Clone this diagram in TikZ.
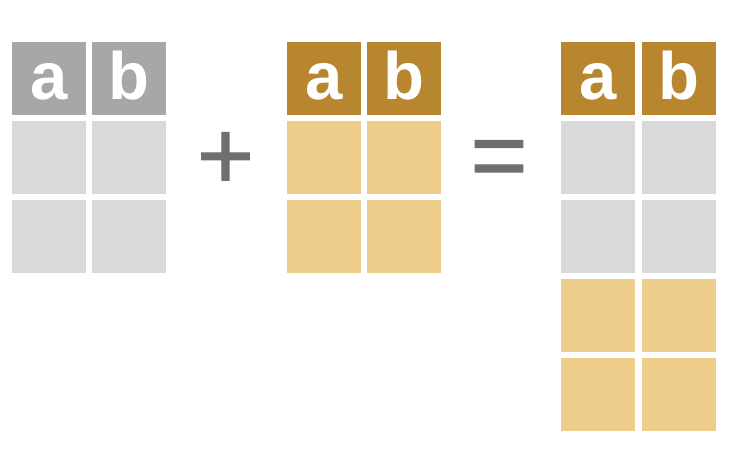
\documentclass[tikz,border=0pt]{standalone}
\usepackage{fontspec}
\setmainfont{Liberation Sans}
\newfontfamily\opfont[FakeBold=1.2]{Liberation Sans}
\definecolor{hdrgray}{HTML}{A7A7A7}
\definecolor{cellgray}{HTML}{D9D9D9}
\definecolor{hdrgold}{HTML}{B8862F}
\definecolor{cellgold}{HTML}{EDCD8A}
\definecolor{opgray}{HTML}{6F6F6F}
\begin{document}
\begin{tikzpicture}[x=1pt,y=-1pt,
  cell/.style={anchor=north west, minimum width=74pt, minimum height=73pt, inner sep=0pt, outer sep=0pt},
  graycell/.style={cell, fill=cellgray},
  goldcell/.style={cell, fill=cellgold},
  hdr/.style={cell, text=white, font=\fontsize{67}{67}\selectfont\bfseries, text height=43pt, text depth=0pt},
  grayhdr/.style={hdr, fill=hdrgray},
  goldhdr/.style={hdr, fill=hdrgold},
  op/.style={anchor=base, inner sep=0pt, text=opgray, font=\opfont\fontsize{98}{98}\selectfont}]
\useasboundingbox (0,0) rectangle (740,454);
% table 1
\node[grayhdr] (t1a) at (12,42) {a};
\node[grayhdr] (t1b) at (92,42) {b};
\node[graycell] (t1a1) at (12,121) {};
\node[graycell] (t1b1) at (92,121) {};
\node[graycell] (t1a2) at (12,200) {};
\node[graycell] (t1b2) at (92,200) {};
% plus
\node[op] (plus) at (225.5,189) {+};
% table 2
\node[goldhdr] (t2a) at (287,42) {a};
\node[goldhdr] (t2b) at (367,42) {b};
\node[goldcell] (t2a1) at (287,121) {};
\node[goldcell] (t2b1) at (367,121) {};
\node[goldcell] (t2a2) at (287,200) {};
\node[goldcell] (t2b2) at (367,200) {};
% equals
\node[op] (eq) at (499,188.5) {=};
% table 3
\node[goldhdr] (t3a) at (561,42) {a};
\node[goldhdr] (t3b) at (642,42) {b};
\node[graycell] (t3a1) at (561,121) {};
\node[graycell] (t3b1) at (642,121) {};
\node[graycell] (t3a2) at (561,200) {};
\node[graycell] (t3b2) at (642,200) {};
\node[goldcell] (t3a3) at (561,279) {};
\node[goldcell] (t3b3) at (642,279) {};
\node[goldcell] (t3a4) at (561,358) {};
\node[goldcell] (t3b4) at (642,358) {};
\end{tikzpicture}
\end{document}
